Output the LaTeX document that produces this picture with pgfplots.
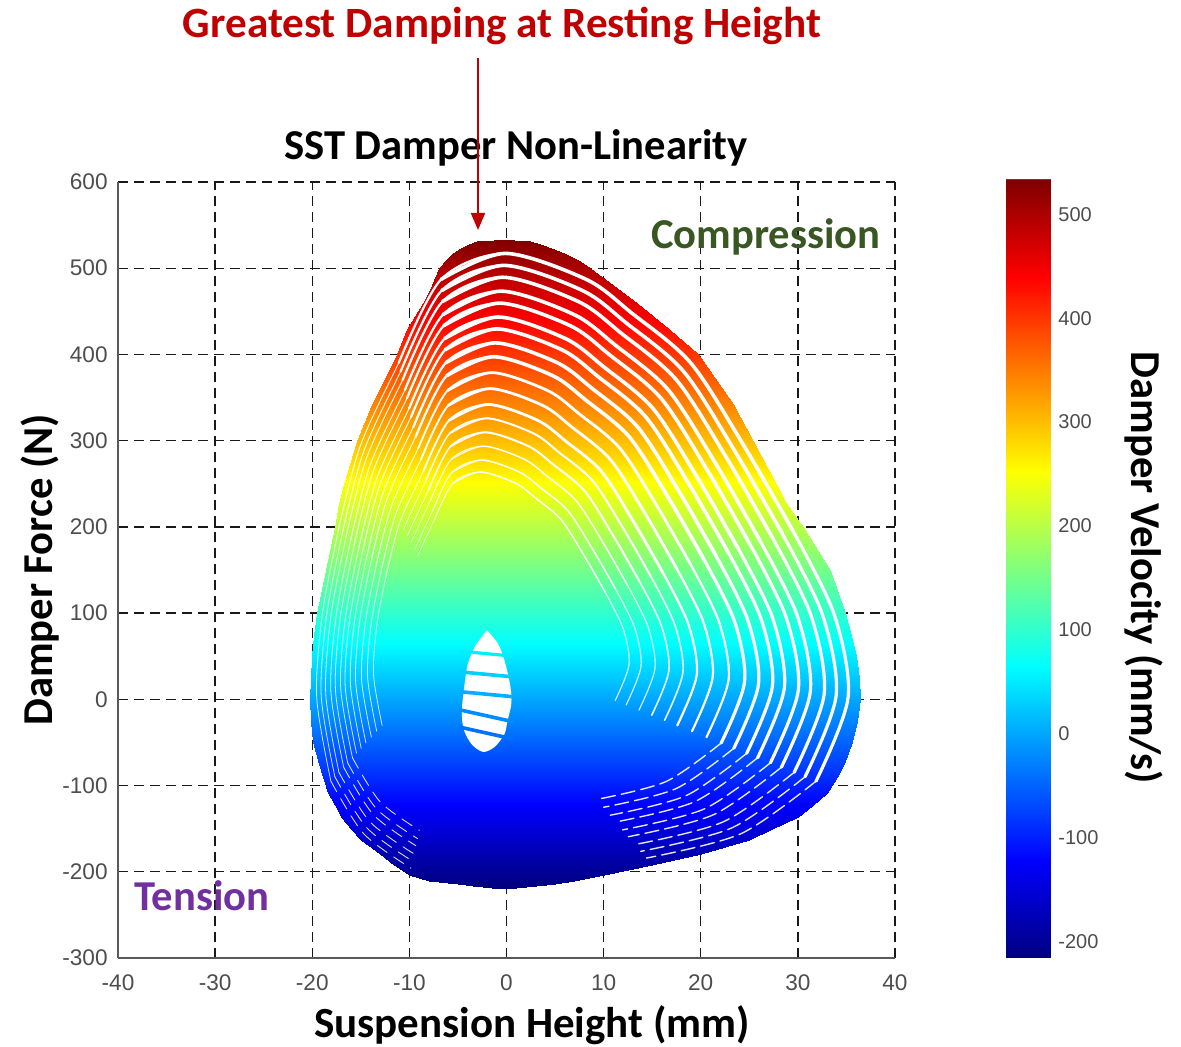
\documentclass[border=0pt]{standalone}
\usepackage{pgfplots}
\usepackage{pgfplotstable}
\pgfplotsset{compat=1.18}
\usepackage{fontspec}
\setmainfont{Carlito}
\newfontfamily\arialfont{Liberation Sans}
\usetikzlibrary{arrows.meta}
\definecolor{annred}{RGB}{192,0,0}
\definecolor{compgreen}{RGB}{56,87,35}
\definecolor{tenspurple}{RGB}{112,48,160}
\definecolor{tickgray}{RGB}{77,77,77}

% outer envelope of the force loop: rows of (left, right) at each force level
\pgfplotstableread[row sep=\\]{x y\\
-1.5 -219\\ 1.0 -219\\ -3.5 -217\\ 3.0 -217\\ -5.0 -214\\ 5.0 -214\\ -8.0 -211\\ 7.0 -211\\
-10.0 -204\\ 10.0 -204\\ -11.6 -192\\ 15.0 -192\\ -13.0 -179\\ 20.0 -179\\ -15.0 -163\\ 25.0 -163\\
-16.0 -150\\ 27.3 -150\\ -17.0 -136\\ 30.0 -136\\ -17.7 -122\\ 31.6 -122\\ -18.4 -109\\ 33.0 -109\\
-18.9 -90\\ 34.0 -90\\ -19.3 -75\\ 34.8 -75\\ -19.9 -50\\ 35.6 -50\\ -20.1 -25\\ 36.1 -25\\
-20.2 0\\ 36.4 0\\ -20.1 25\\ 36.3 25\\ -20.0 50\\ 36.0 50\\ -19.8 75\\ 35.5 75\\
-19.5 100\\ 34.9 100\\ -18.6 150\\ 33.3 150\\ -17.7 200\\ 30.5 200\\ -17.2 228\\ 28.8 228\\
-16.7 250\\ 27.8 250\\ -15.4 300\\ 25.4 300\\ -13.8 343\\ 23.3 343\\ -11.3 400\\ 19.7 400\\
-10.2 430\\ 16.7 430\\ -8.6 460\\ 13.4 460\\ -7.7 480\\ 11.0 480\\ -6.9 500\\ 8.6 500\\
-6.2 510\\ 7.4 510\\ -5.5 518\\ 5.9 518\\ -4.7 524\\ 4.6 524\\ -3.9 528\\ 3.4 528\\ -3.0 531\\ 2.4 531\\
-1.3 533\\ 0.8 533\\
}\envelope

% gaps between successive cycles, one table per cycle (outer to inner)
\pgfplotstableread[row sep=\\]{x y\\ -18.08 -94.9\\ -19.54 2.1\\ -18.96 99.1\\ -17.31 196.1\\ -15.08 293.1\\ -11.10 390.1\\ -6.73 487.1\\ -0.14 517.2\\ 8.20 487.1\\ 12.86 448.3\\ 18.97 390.1\\ 24.50 293.1\\ 29.45 196.1\\ 33.72 99.1\\ 35.17 2.1\\ 31.87 -94.9\\}\gA
\pgfplotstableread[row sep=\\]{x y\\ -17.67 -89.8\\ -19.08 4.2\\ -18.51 98.2\\ -16.91 192.2\\ -14.75 286.2\\ -10.90 380.2\\ -6.67 474.2\\ -0.28 503.3\\ 7.81 474.2\\ 12.32 436.6\\ 18.24 380.2\\ 23.60 286.2\\ 28.39 192.2\\ 32.53 98.2\\ 33.94 4.2\\ 30.74 -89.8\\}\gB
\pgfplotstableread[row sep=\\]{x y\\ -17.25 -84.7\\ -18.61 6.3\\ -18.07 97.3\\ -16.52 188.3\\ -14.43 279.3\\ -10.70 370.3\\ -6.60 461.3\\ -0.41 489.5\\ 7.41 461.3\\ 11.78 424.9\\ 17.51 370.3\\ 22.70 279.3\\ 27.34 188.3\\ 31.35 97.3\\ 32.71 6.3\\ 29.62 -84.7\\}\gC
\pgfplotstableread[row sep=\\]{x y\\ -16.76 -78.8\\ -18.08 8.8\\ -17.55 96.3\\ -16.06 183.8\\ -14.05 271.3\\ -10.46 358.8\\ -6.53 446.3\\ -0.58 473.4\\ 6.95 446.3\\ 11.15 411.3\\ 16.66 358.8\\ 21.65 271.3\\ 26.11 183.8\\ 29.96 96.3\\ 31.28 8.8\\ 28.30 -78.8\\}\gD
\pgfplotstableread[row sep=\\]{x y\\ -16.35 -73.7\\ -17.61 10.9\\ -17.11 95.4\\ -15.67 179.9\\ -13.73 264.4\\ -10.26 348.9\\ -6.46 433.4\\ -0.71 459.5\\ 6.55 433.4\\ 10.61 399.6\\ 15.93 348.9\\ 20.75 264.4\\ 25.06 179.9\\ 28.78 95.4\\ 30.05 10.9\\ 27.17 -73.7\\}\gE
\pgfplotstableread[row sep=\\]{x y\\ -15.86 -67.7\\ -17.07 13.3\\ -16.59 94.3\\ -15.21 175.3\\ -13.35 256.3\\ -10.03 337.3\\ -6.38 418.3\\ -0.87 443.4\\ 6.09 418.3\\ 9.98 385.9\\ 15.08 337.3\\ 19.70 256.3\\ 23.83 175.3\\ 27.40 94.3\\ 28.61 13.3\\ 25.86 -67.7\\}\gF
\pgfplotstableread[row sep=\\]{x y\\ -15.44 -62.6\\ -16.61 15.4\\ -16.14 93.4\\ -14.82 171.4\\ -13.02 249.4\\ -9.83 327.4\\ -6.32 405.4\\ -1.01 429.6\\ 5.70 405.4\\ 9.44 374.2\\ 14.35 327.4\\ 18.80 249.4\\ 22.78 171.4\\ 26.21 93.4\\ 27.38 15.4\\ 24.73 -62.6\\}\gG
\pgfplotstableread[row sep=\\]{x y\\ -14.96 -56.7\\ -16.07 17.9\\ -15.63 92.4\\ -14.36 166.9\\ -12.65 241.4\\ -9.59 315.9\\ -6.24 390.4\\ -1.17 413.4\\ 5.23 390.4\\ 8.81 360.6\\ 13.50 315.9\\ 17.75 241.4\\ 21.55 166.9\\ 24.83 92.4\\ 25.95 17.9\\ 23.41 -56.7\\}\gH
\pgfplotstableread[row sep=\\]{x y\\ -14.47 -50.7\\ -15.53 20.3\\ -15.11 91.3\\ -13.90 162.3\\ -12.27 233.3\\ -9.36 304.3\\ -6.16 375.3\\ -1.33 397.3\\ 4.77 375.3\\ 8.18 346.9\\ 12.65 304.3\\ 16.70 233.3\\ 20.32 162.3\\ 23.45 91.3\\ 24.51 20.3\\ 22.10 -50.7\\}\gI
\pgfplotstableread[row sep=\\]{x y\\ -13.91 -43.9\\ -14.92 23.1\\ -14.52 90.1\\ -13.38 157.1\\ -11.84 224.1\\ -9.09 291.1\\ -6.07 358.1\\ -1.52 378.9\\ 4.24 358.1\\ 7.46 331.3\\ 11.68 291.1\\ 15.50 224.1\\ 18.92 157.1\\ 21.87 90.1\\ 22.87 23.1\\ 20.59 -43.9\\}\gJ
\pgfplotstableread[row sep=\\]{x y\\ -13.36 -37.1\\ -14.30 25.9\\ -13.92 88.9\\ -12.85 151.9\\ -11.40 214.9\\ -8.82 277.9\\ -5.99 340.9\\ -1.70 360.4\\ 3.72 340.9\\ 6.74 315.7\\ 10.71 277.9\\ 14.30 214.9\\ 17.51 151.9\\ 20.29 88.9\\ 21.23 25.9\\ 19.09 -37.1\\}\gK
\pgfplotstableread[row sep=\\]{x y\\ -12.80 -30.3\\ -13.69 28.7\\ -13.33 87.7\\ -12.33 146.7\\ -10.97 205.7\\ -8.55 264.7\\ -5.90 323.7\\ -1.89 342.0\\ 3.19 323.7\\ 6.02 300.1\\ 9.74 264.7\\ 13.10 205.7\\ 16.11 146.7\\ 18.71 87.7\\ 19.59 28.7\\ 17.58 -30.3\\}\gL
\pgfplotstableread[row sep=\\]{x y\\ -12.31 -24.4\\ -13.15 31.2\\ -12.81 86.7\\ -11.87 142.2\\ -10.59 197.7\\ -8.32 253.2\\ -5.82 308.7\\ -2.05 325.9\\ 2.73 308.7\\ 5.39 286.5\\ 8.89 253.2\\ 12.05 197.7\\ 14.88 142.2\\ 17.32 86.7\\ 18.16 31.2\\ 16.27 -24.4\\}\gM
\pgfplotstableread[row sep=\\]{x y\\ -11.83 -18.4\\ -12.61 33.6\\ -12.30 85.6\\ -11.41 137.6\\ -10.22 189.6\\ -8.08 241.6\\ -5.74 293.6\\ -2.21 309.7\\ 2.26 293.6\\ 4.76 272.8\\ 8.04 241.6\\ 11.00 189.6\\ 13.65 137.6\\ 15.94 85.6\\ 16.72 33.6\\ 14.95 -18.4\\}\gN
\pgfplotstableread[row sep=\\]{x y\\ -11.34 -12.5\\ -12.07 36.1\\ -11.78 84.6\\ -10.95 133.1\\ -9.84 181.6\\ -7.85 230.1\\ -5.67 278.6\\ -2.37 293.6\\ 1.80 278.6\\ 4.13 259.2\\ 7.19 230.1\\ 9.95 181.6\\ 12.42 133.1\\ 14.56 84.6\\ 15.29 36.1\\ 13.64 -12.5\\}\gO
\pgfplotstableread[row sep=\\]{x y\\ -10.86 -6.5\\ -11.53 38.5\\ -11.26 83.5\\ -10.50 128.5\\ -9.46 173.5\\ -7.62 218.5\\ -5.59 263.5\\ -2.53 277.5\\ 1.34 263.5\\ 3.50 245.5\\ 6.34 218.5\\ 8.90 173.5\\ 11.20 128.5\\ 13.18 83.5\\ 13.85 38.5\\ 12.32 -6.5\\}\gP
\pgfplotstableread[row sep=\\]{x y\\ -10.44 -1.4\\ -11.07 40.6\\ -10.82 82.6\\ -10.10 124.6\\ -9.14 166.6\\ -7.41 208.6\\ -5.52 250.6\\ -2.67 263.6\\ 0.94 250.6\\ 2.96 233.8\\ 5.61 208.6\\ 8.00 166.6\\ 10.14 124.6\\ 11.99 82.6\\ 12.62 40.6\\ 11.19 -1.4\\}\gQ

% #1 table, #2 thin (left flank), #3 medium, #4 thick (crest), #5 right flank, #6 opacity, #7 first row of the thin piece
\newcommand{\gap}[7]{%
  \addplot[white, smooth, line cap=round, opacity=#6, line width=#2, skip coords between index={0}{#7}, skip coords between index={13}{16}] table {#1};
  \addplot[white, smooth, line cap=round, opacity=#6, line width=#3, skip coords between index={0}{5}, skip coords between index={13}{16}] table {#1};
  \addplot[white, smooth, line cap=round, opacity=#6, line width=#4, skip coords between index={0}{6}, skip coords between index={13}{16}] table {#1};
  \addplot[white, smooth, line cap=round, opacity=#6, line width=#5, skip coords between index={0}{12}] table {#1};
}
\newcommand{\gapleft}[1]{%
  \addplot[white, smooth, line cap=round, opacity=0.8, line width=0.4pt, skip coords between index={4}{16}] table {#1};
}

\begin{document}
\begin{tikzpicture}
\useasboundingbox (0,0) rectangle (590.5pt,523.5pt);
\begin{axis}[
  at={(59pt,44.5pt)}, anchor=south west,
  scale only axis, width=388.5pt, height=388pt,
  xmin=-40, xmax=40, ymin=-300, ymax=600,
  xtick={-40,-30,...,40}, ytick={-300,-200,...,600},
  axis lines*=left,
  axis line style={-, draw=black!65, line width=0.75pt},
  grid=major,
  grid style={dash pattern=on 5pt off 3pt, black!90, line width=0.7pt},
  major tick length=0pt,
  colormap/jet, point meta min=-216, point meta max=533,
  /pgf/number format/assume math mode=true,
  ticklabel style={font=\arialfont\fontsize{11.3}{13}\selectfont, text=tickgray},
  yticklabel style={inner sep=0pt, xshift=-5pt},
  xticklabel style={inner sep=0pt, yshift=-8pt},
]
\addplot[surf, shader=interp, mesh/cols=2, point meta=y] table {\envelope};
\gap{\gA}{0.45pt}{1.1pt}{1.8pt}{1.6pt}{1}{3}
\gap{\gB}{0.45pt}{1.1pt}{1.8pt}{1.6pt}{1}{3}
\gap{\gC}{0.45pt}{1.1pt}{1.8pt}{1.6pt}{1}{3}
\gap{\gD}{0.45pt}{1.1pt}{1.8pt}{1.6pt}{1}{3}
\gap{\gE}{0.45pt}{1.1pt}{1.8pt}{1.6pt}{1}{3}
\gap{\gF}{0.45pt}{1.1pt}{1.8pt}{1.6pt}{1}{3}
\gap{\gG}{0.45pt}{1.1pt}{1.8pt}{1.6pt}{1}{3}
\gap{\gH}{0.45pt}{1.1pt}{1.8pt}{1.6pt}{1}{3}
\gap{\gI}{0.45pt}{1.1pt}{1.8pt}{1.6pt}{1}{3}
\gap{\gJ}{0.4pt}{0.9pt}{1.4pt}{1.1pt}{1}{3}
\gap{\gK}{0.4pt}{0.9pt}{1.4pt}{1.1pt}{1}{3}
\gap{\gL}{0.4pt}{0.9pt}{1.4pt}{1.1pt}{1}{3}
\gap{\gM}{0.35pt}{0.7pt}{1.0pt}{0.8pt}{0.9}{4}
\gap{\gN}{0.35pt}{0.7pt}{1.0pt}{0.8pt}{0.9}{4}
\gap{\gO}{0.3pt}{0.5pt}{0.7pt}{0.6pt}{0.8}{4}
\gap{\gP}{0.3pt}{0.5pt}{0.7pt}{0.6pt}{0.8}{4}
\gap{\gQ}{0.3pt}{0.5pt}{0.7pt}{0.6pt}{0.8}{4}
\gapleft{\gA}\gapleft{\gB}\gapleft{\gC}\gapleft{\gD}\gapleft{\gE}\gapleft{\gF}
\gapleft{\gG}\gapleft{\gH}\gapleft{\gI}\gapleft{\gJ}\gapleft{\gK}\gapleft{\gL}
% broken gaps along the lower right of the loops
\pgfplotsset{lowR/.style={white, smooth, line cap=round, line width=0.7pt, dash pattern=on 7pt off 3pt, opacity=0.9},
             lowL/.style={white, smooth, line cap=round, line width=0.45pt, dash pattern=on 6pt off 4pt, opacity=0.85}}
\addplot[lowR] coordinates {(31.87,-94.9)(24.11,-156.0)(14.41,-184.1)};
\addplot[lowR] coordinates {(30.74,-89.8)(23.22,-149.0)(13.82,-176.3)};
\addplot[lowR] coordinates {(29.62,-84.7)(22.34,-142.0)(13.24,-168.4)};
\addplot[lowR] coordinates {(28.30,-78.8)(21.30,-133.9)(12.55,-159.3)};
\addplot[lowR] coordinates {(27.17,-73.7)(20.41,-126.9)(11.96,-151.4)};
\addplot[lowR] coordinates {(25.86,-67.7)(19.38,-118.7)(11.28,-142.2)};
\addplot[lowR] coordinates {(24.73,-62.6)(18.49,-111.7)(10.69,-134.4)};
\addplot[lowR] coordinates {(23.41,-56.7)(17.45,-103.6)(10.00,-125.2)};
\addplot[lowR] coordinates {(22.10,-50.7)(16.42,-95.4)(9.32,-116.0)};
% broken gaps along the lower left
\addplot[lowL] coordinates {(-18.08,-94.9)(-14.69,-156.0)(-9.84,-195.8)};
\addplot[lowL] coordinates {(-17.67,-89.8)(-14.38,-149.0)(-9.68,-187.6)};
\addplot[lowL] coordinates {(-17.25,-84.7)(-14.06,-142.0)(-9.51,-179.3)};
\addplot[lowL] coordinates {(-16.76,-78.8)(-13.70,-133.9)(-9.33,-169.8)};
\addplot[lowL] coordinates {(-16.35,-73.7)(-13.39,-126.9)(-9.16,-161.5)};
\addplot[lowL] coordinates {(-15.86,-67.7)(-13.02,-118.7)(-8.97,-151.9)};
% central hole
\addplot[fill=white, draw=none, smooth] coordinates {(-2.0,80)(-0.9,65)(-0.2,45)(0.4,15)(0.5,-5)(0.1,-25)(-0.2,-40)(-1.2,-55)(-2.4,-61)(-3.6,-52)(-4.4,-35)(-4.6,-15)(-4.4,10)(-4.0,40)(-3.2,62)(-2.0,80)} -- cycle;
\addplot[mesh, point meta=y, line width=1.6pt] coordinates {(-4.9,56)(0.7,50)};
\addplot[mesh, point meta=y, line width=1.8pt] coordinates {(-4.9,32)(0.7,26)};
\addplot[mesh, point meta=y, line width=1.8pt] coordinates {(-4.9,9)(0.7,3)};
\addplot[mesh, point meta=y, line width=1.8pt] coordinates {(-4.9,-12)(0.7,-26)};
\addplot[mesh, point meta=y, line width=1.8pt] coordinates {(-4.9,-32)(0.7,-46)};
\end{axis}
% colour bar
\begin{axis}[
  at={(503pt,44.5pt)}, anchor=south west,
  scale only axis, width=22pt, height=389pt,
  xmin=0, xmax=1, ymin=-216, ymax=533,
  xtick=\empty, ytick={-200,-100,...,500},
  ytick pos=right, yticklabel pos=right,
  tick align=inside, major tick length=3pt,
  tick style={draw=black!60, line width=0.4pt},
  axis line style={draw=black!70, line width=0.5pt},
  colormap/jet, point meta min=-216, point meta max=533,
  /pgf/number format/assume math mode=true,
  yticklabel style={font=\arialfont\fontsize{10}{12}\selectfont, text=tickgray, inner sep=0pt, xshift=4pt, anchor=west},
]
\addplot[surf, shader=interp, mesh/cols=2, point meta=y] table[row sep=\\] {x y\\ 0 -216\\ 1 -216\\ 0 533\\ 1 533\\};
\end{axis}
\node[anchor=base, font=\fontsize{21.6}{25}\selectfont\bfseries, text=annred] at (251pt,504.5pt) {Greatest Damping at Resting Height};
\node[anchor=base, font=\fontsize{21.3}{25}\selectfont\bfseries] at (258pt,443.5pt) {SST Damper Non-Linearity};
\draw[annred, line width=1pt, -{Triangle[width=7pt,length=8.5pt]}] (239pt,494.5pt) -- (239pt,408.5pt);
\node[anchor=base, font=\fontsize{21.3}{25}\selectfont\bfseries, text=compgreen] at (383pt,399pt) {Compression};
\node[anchor=base, font=\fontsize{21.3}{25}\selectfont\bfseries, text=tenspurple] at (101pt,68pt) {Tension};
\node[anchor=base, font=\fontsize{21.5}{25}\selectfont\bfseries] at (266pt,4.5pt) {Suspension Height (mm)};
\node[anchor=base, rotate=90, font=\fontsize{21.3}{25}\selectfont\bfseries] at (26pt,238.5pt) {Damper Force (N)};
\node[anchor=base, rotate=-90, font=\fontsize{21.3}{25}\selectfont\bfseries] at (565.5pt,239.5pt) {Damper Velocity (mm/s)};
\end{tikzpicture}
\end{document}
